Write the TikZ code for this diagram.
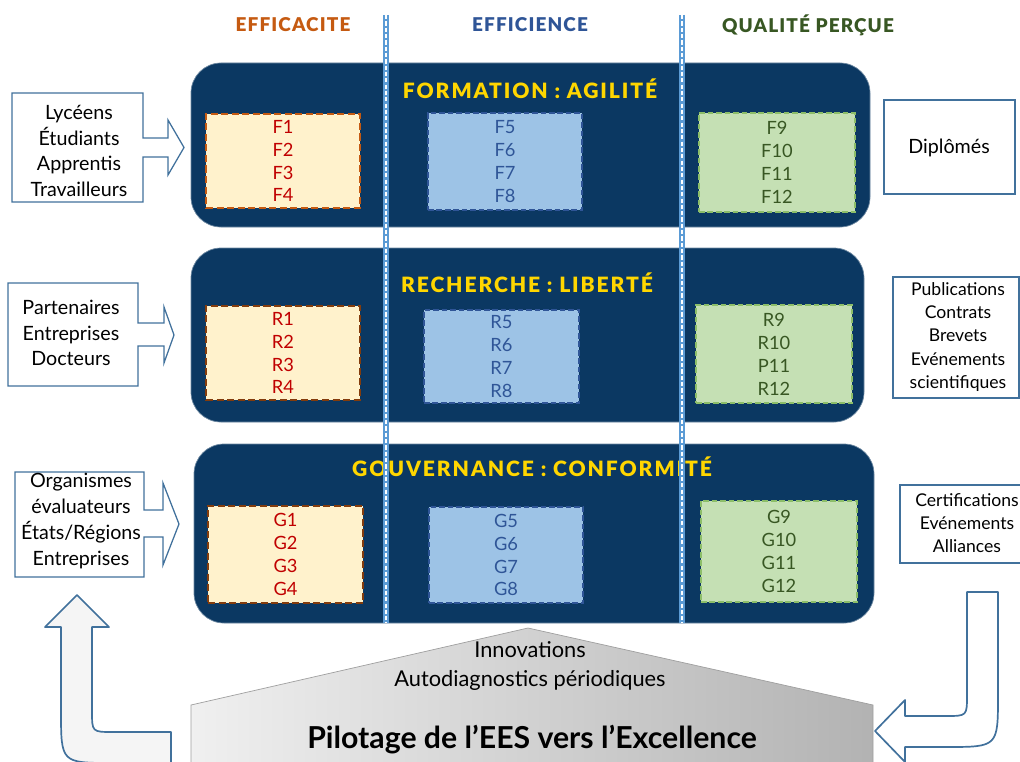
\documentclass[tikz,border=0pt]{standalone}
\usepackage{fontspec}
\setmainfont{Lato}
\newfontfamily\blackfont{Lato Black}
\usepackage{tikz}
\usetikzlibrary{fit}

\definecolor{navy}{RGB}{11,56,98}
\definecolor{titleyellow}{RGB}{255,214,0}
\definecolor{effcol}{RGB}{197,90,17}
\definecolor{effdark}{RGB}{132,60,12}
\definecolor{effill}{RGB}{255,242,204}
\definecolor{efftext}{RGB}{192,0,0}
\definecolor{ficol}{RGB}{47,85,151}
\definecolor{fifill}{RGB}{157,195,230}
\definecolor{qualcol}{RGB}{56,87,35}
\definecolor{qualfill}{RGB}{197,224,180}
\definecolor{qualedge}{RGB}{140,190,105}
\definecolor{callblue}{RGB}{65,113,156}
\definecolor{sepblue}{RGB}{91,155,213}

\newcommand{\headfont}{\fontsize{13.5}{15}\selectfont\blackfont\addfontfeature{LetterSpace=6}}
\newcommand{\themefont}{\fontsize{15}{17}\selectfont\blackfont\addfontfeature{LetterSpace=9}}
\newcommand{\cellfont}{\fontsize{13}{16.3}\selectfont}
\newcommand{\sidefont}{\fontsize{14}{18.4}\selectfont}
\newcommand{\outfont}{\fontsize{12.5}{16.4}\selectfont}

\begin{document}
\begin{tikzpicture}[x=0.025cm, y=-0.025cm,
	row/.style={fill=navy, draw=navy!60!white, line width=0.5pt,
		rounded corners=0.75cm, inner sep=0pt},
	head/.style={font=\headfont},
	theme/.style={text=titleyellow, font=\themefont},
	effbox/.style={fill=effill, draw=effcol, line width=1.8pt,
		dash pattern=on 5pt off 2.5pt, inner sep=0pt},
	fibox/.style={fill=fifill, draw=ficol, line width=1.2pt,
		dash pattern=on 4pt off 2pt, inner sep=0pt},
	qualbox/.style={fill=qualfill, draw=qualedge, line width=1.2pt,
		dash pattern=on 4pt off 2pt, inner sep=0pt},
	cell/.style={font=\cellfont, align=center},
	callout/.style={draw=callblue, fill=white, line width=0.9pt},
	intext/.style={align=center, font=\sidefont},
	outbox/.style={draw=callblue, fill=white, line width=0.9pt, inner sep=0pt},
	outtext/.style={align=center, font=\outfont},
	sepline/.style={draw=sepblue, line width=3.6pt},
	sepdash/.style={draw=white, line width=1.4pt, dash pattern=on 3pt off 1.5pt},
	house/.style={left color=gray!12, right color=gray!60, draw=gray!75, line width=0.5pt},
	loop/.style={draw=callblue, line width=1.2pt, line join=round}]

	\useasboundingbox (0,0) rectangle (1020,762);

	% column headers
	\node[head, text=effcol]  (efficacite) at (293,25) {EFFICACITE};
	\node[head, text=ficol]   (efficience) at (530,25) {EFFICIENCE};
	\node[head, text=qualcol] (qualite)    at (808,25) {QUALITÉ PERÇUE};

	% inputs
	\draw[callout] (12,93) -- (143,93) -- (143,138) -- (168,138) -- (168,120)
		-- (184,147.5) -- (168,175) -- (168,157) -- (143,157) -- (143,202)
		-- (12,202) -- cycle;
	\node[intext] (lycees) at (79,151)
		{Lycéens\\Étudiants\\Apprentis\\Travailleurs};
	\draw[callout] (8,283) -- (138,283) -- (138,323) -- (164,323) -- (164,307)
		-- (174,335) -- (164,363) -- (164,346) -- (138,346) -- (138,386)
		-- (8,386) -- cycle;
	\node[intext] (partenaires) at (71,333)
		{Partenaires\\Entreprises\\Docteurs};
	\draw[callout] (15,472) -- (144,472) -- (144,510) -- (163,510) -- (163,483)
		-- (179,524) -- (163,565) -- (163,537) -- (144,537) -- (144,577)
		-- (15,577) -- cycle;
	\node[intext] (organismes) at (81,521)
		{Organismes\\évaluateurs\\États/Régions\\Entreprises};

	% rows
	\node[row, fit={(191,63) (870,227)}]  (formation)   {};
	\node[row, fit={(191,248) (864,422)}] (recherche)   {};
	\node[row, fit={(194,444) (874,623)}] (gouvernance) {};

	\node[effbox, fit={(206,114) (360,208)}]  (f1) {};
	\node[fibox, fit={(428,113) (582,210)}]   (f5) {};
	\node[qualbox, fit={(699,113) (855,212)}] (f9) {};
	\node[cell, text=efftext] (f1t) at (f1) {F1\\F2\\F3\\F4};
	\node[cell, text=ficol]   (f5t) at (f5) {F5\\F6\\F7\\F8};
	\node[cell, text=qualcol] (f9t) at (f9) {F9\\F10\\F11\\F12};

	\node[effbox, draw=effdark, fit={(206,306) (360,400)}] (r1) {};
	\node[fibox, fit={(424,310) (579,403)}]   (r5) {};
	\node[qualbox, fit={(696,305) (852,403)}] (r9) {};
	\node[cell, text=efftext] (r1t) at (r1) {R1\\R2\\R3\\R4};
	\node[cell, text=ficol]   (r5t) at (r5) {R5\\R6\\R7\\R8};
	\node[cell, text=qualcol] (r9t) at (r9) {R9\\R10\\P11\\R12};

	\node[effbox, draw=effdark, fit={(208,506) (363,603)}] (g1) {};
	\node[fibox, fit={(429,507) (583,603)}]   (g5) {};
	\node[qualbox, fit={(701,501) (857,602)}] (g9) {};
	\node[cell, text=efftext] (g1t) at (g1) {G1\\G2\\G3\\G4};
	\node[cell, text=ficol]   (g5t) at (g5) {G5\\G6\\G7\\G8};
	\node[cell, text=qualcol] (g9t) at (g9) {G9\\G10\\G11\\G12};

	\node[theme] (agilite)    at (530,89)  {FORMATION : AGILITÉ};
	\node[theme] (liberte)    at (527,283) {RECHERCHE : LIBERTÉ};
	\node[theme] (conformite) at (532,467) {GOUVERNANCE : CONFORMITÉ};

	% column separators
	\foreach \sx in {386,682} {
		\draw[sepline] (\sx,15) -- (\sx,623);
		\draw[sepdash] (\sx,15) -- (\sx,623);
	}

	% outputs
	\node[outbox, fit={(884,100) (1015,194)}] (diplomes) {};
	\node[intext] (diplomest) at (949,148) {Diplômés};
	\node[outbox, fit={(893,277) (1019,398)}] (publications) {};
	\node[outtext] (publicationst) at (958,337)
		{Publications\\Contrats\\Brevets\\Evénements\\scientifiques};
	\node[outbox, fit={(900,485) (1036,563)}] (certifications) {};
	\node[outtext] (certificationst) at (967,523)
		{Certifications\\Evénements\\Alliances};

	% steering
	\draw[house] (191,705) -- (528,628) -- (873,705) -- (873,775) -- (191,775) -- cycle;
	\node[font=\fontsize{15.5}{18}\selectfont] (innovations) at (530,650) {Innovations};
	\node[font=\fontsize{15.5}{18}\selectfont] (autodiag) at (530,680)
		{Autodiagnostics périodiques};
	\node[font=\fontsize{21.5}{24}\selectfont\bfseries] (pilotage) at (532,740)
		{Pilotage de l’EES vers l’Excellence};

	\draw[loop, fill=gray!8] (77,595) -- (109,627) -- (92,627) -- (92,711)
		.. controls (92,732) .. (113,732) -- (171,732) -- (171,763) -- (113,763)
		.. controls (61,763) .. (61,711) -- (61,627) -- (45,627) -- cycle;
	\draw[loop, fill=white] (967,592) -- (998,592) -- (998,695)
		.. controls (998,747) .. (946,747) -- (905,747) -- (905,762)
		-- (875,731) -- (905,700) -- (905,716) -- (946,716)
		.. controls (967,716) .. (967,695) -- cycle;
\end{tikzpicture}
\end{document}
